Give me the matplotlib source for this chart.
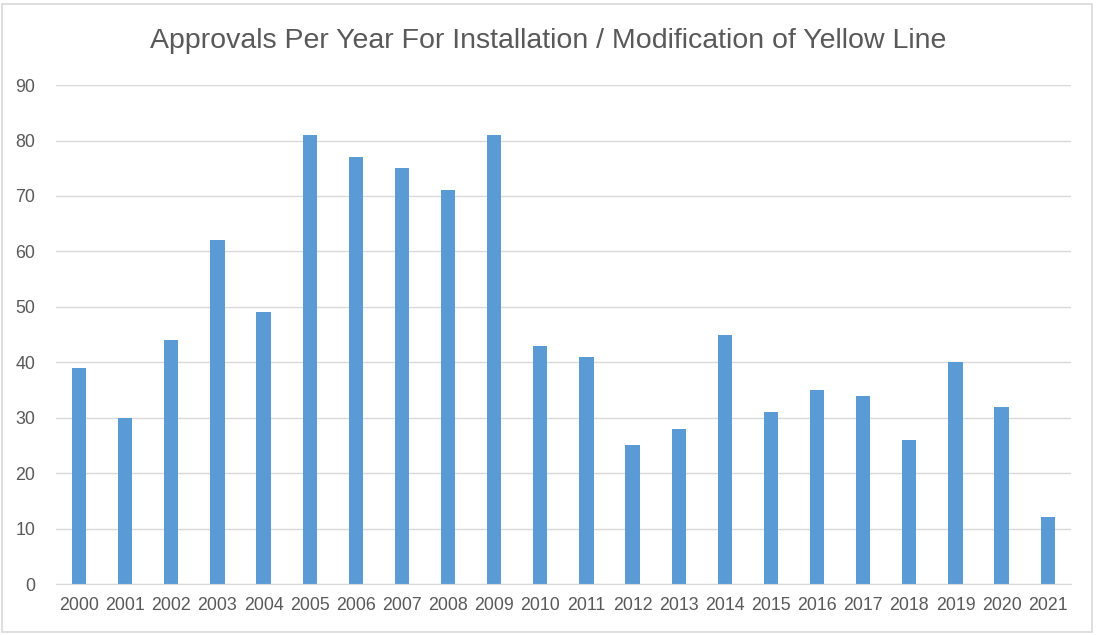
import matplotlib
matplotlib.use("Agg")
import matplotlib.pyplot as plt
from matplotlib.patches import Rectangle

years = [str(y) for y in range(2000, 2022)]
approvals = [39, 30, 44, 62, 49, 81, 77, 75, 71, 81, 43,
             41, 25, 28, 45, 31, 35, 34, 26, 40, 32, 12]

plt.rcParams['font.family'] = ['Liberation Sans', 'DejaVu Sans']
text_col = '#595959'
grid_col = '#d9d9d9'

fig = plt.figure(figsize=(10.96, 6.35), dpi=100)
ax = fig.add_axes([0.0511, 0.0803, 0.9259, 0.7857])

x = list(range(len(years)))
ax.bar(x, approvals, width=0.31, color='#5b9bd5', zorder=2)

ax.set_xlim(-0.5, len(years) - 0.5)
ax.set_ylim(0, 90)
ax.set_yticks(range(0, 91, 10))
ax.set_xticks(x)
ax.set_xticklabels(years)
ax.tick_params(axis='both', length=0, colors=text_col, labelsize=12.8)
ax.tick_params(axis='x', pad=9)
ax.tick_params(axis='y', pad=15)
ax.grid(axis='y', color=grid_col, linewidth=1, zorder=0)
for s in ['top', 'right', 'left']:
    ax.spines[s].set_visible(False)
ax.spines['bottom'].set_color(grid_col)

fig.text(0.5, 0.936, "Approvals Per Year For Installation / Modification of Yellow Line",
         ha='center', va='center', fontsize=20.5, color=text_col)

# outer chart border
fig.patches.append(Rectangle((0.002, 0.004), 0.994, 0.99, transform=fig.transFigure,
                             fill=False, edgecolor=grid_col, linewidth=1.2))

fig.savefig("out.png", dpi=100)
